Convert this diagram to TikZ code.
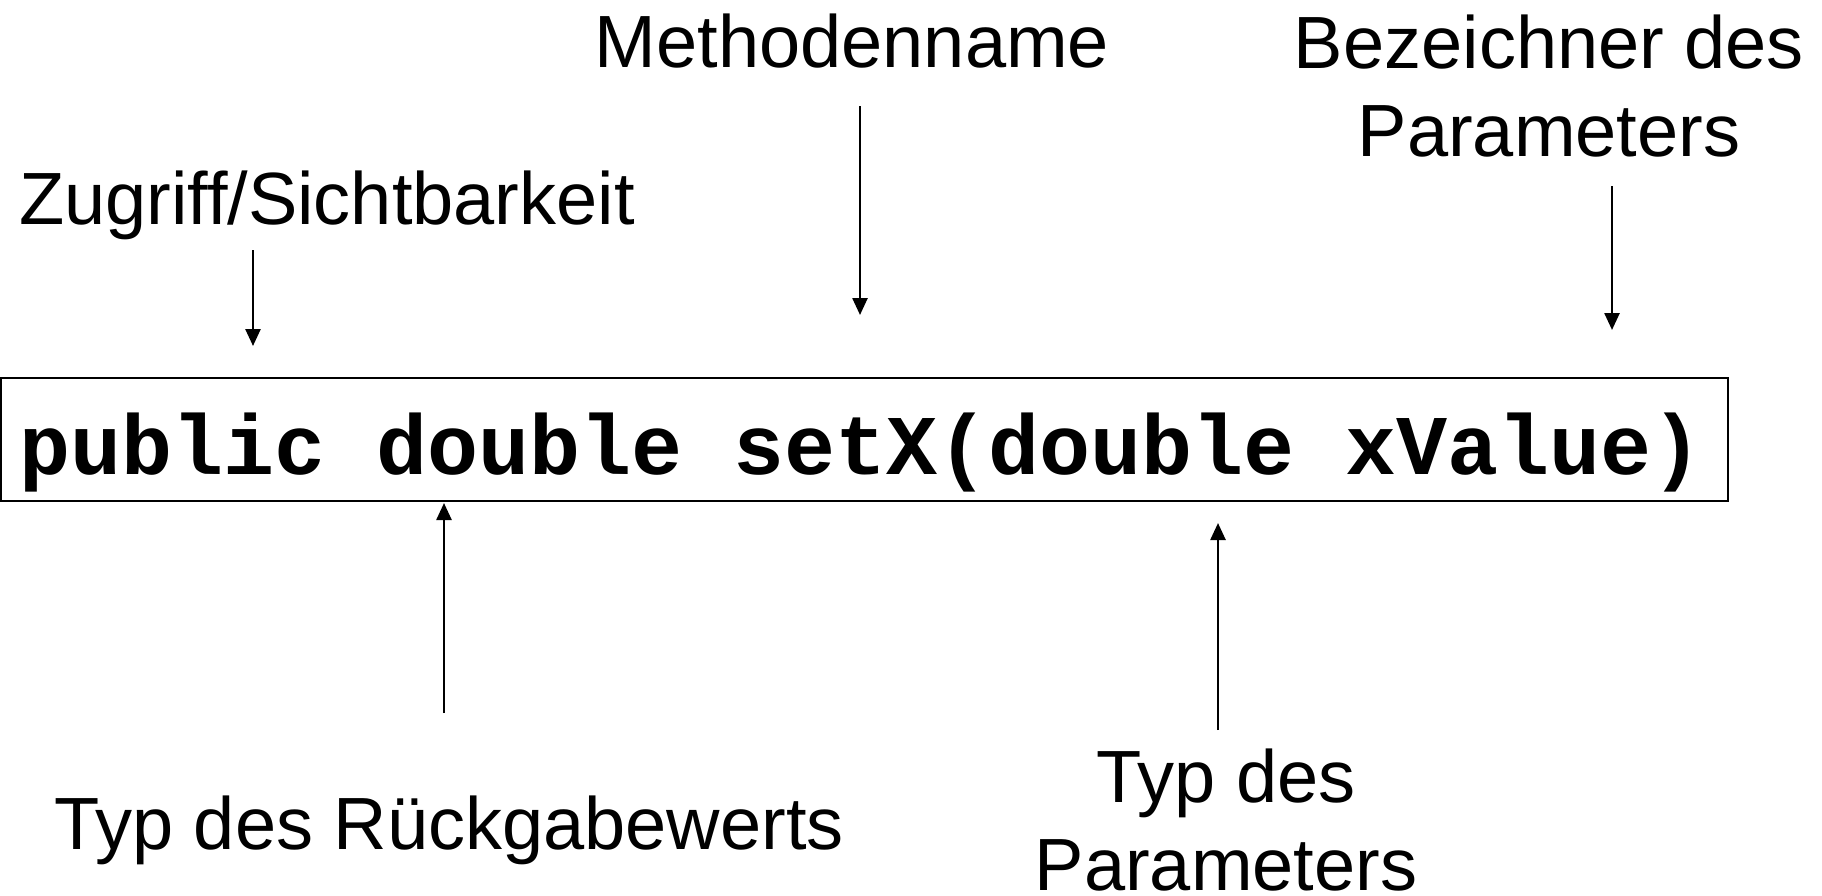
\documentclass[tikz,border=0pt]{standalone}
\usepackage{fontspec}
\setmainfont{Liberation Sans}
\newfontfamily\codefont{Liberation Mono}
\usetikzlibrary{arrows.meta}
\begin{document}
\begin{tikzpicture}[x=1pt,y=1pt,
  lbl/.style={inner sep=0pt,font=\fontsize{74}{88}\selectfont,align=center},
  code/.style={inner sep=0pt,font=\codefont\bfseries\fontsize{85}{100}\selectfont},
  frame/.style={draw,line width=2.5pt,inner sep=0pt},
  pointer/.style={line width=2.5pt,-{Triangle[width=15pt,length=17pt]}}]
\useasboundingbox (0,0) rectangle (1822,-895);
\node[frame,minimum width=1727pt,minimum height=123pt] (box) at (864.5,-439.5) {};
\node[code,anchor=base] (sig) at (861,-474) {public double setX(double xValue)};
\node[lbl,anchor=base] (zug) at (327,-224) {Zugriff/Sichtbarkeit};
\node[lbl,anchor=base] (meth) at (852,-67) {Methodenname};
\node[lbl,anchor=base] (bez) at (1549,-156) {Bezeichner des\\Parameters};
\node[lbl,anchor=base] (rueck) at (449,-849) {Typ des R\"uckgabewerts};
\node[lbl,anchor=base] (typ) at (1226,-890) {Typ des\\Parameters};
\coordinate (zugT) at (253,-250);
\coordinate (zugE) at (253,-346);
\coordinate (methT) at (860,-106);
\coordinate (methE) at (860,-315);
\coordinate (bezT) at (1612,-186);
\coordinate (bezE) at (1612,-330);
\coordinate (rueckT) at (444,-713);
\coordinate (rueckE) at (444,-503);
\coordinate (typT) at (1218,-730);
\coordinate (typE) at (1218,-523);
\draw[pointer] (zugT) -- (zugE);
\draw[pointer] (methT) -- (methE);
\draw[pointer] (bezT) -- (bezE);
\draw[pointer] (rueckT) -- (rueckE);
\draw[pointer] (typT) -- (typE);
\end{tikzpicture}
\end{document}
